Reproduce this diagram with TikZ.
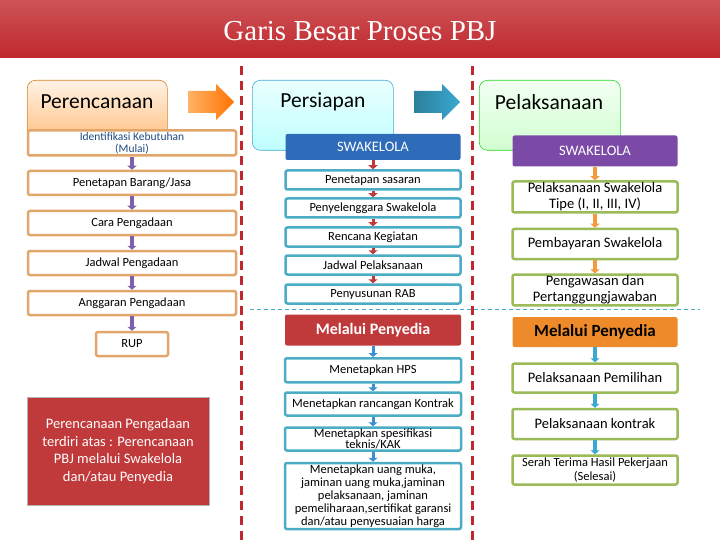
\documentclass[tikz,border=0pt]{standalone}
\usepackage{fontspec}
\setmainfont{Carlito}
\newfontfamily\titlefont{Liberation Serif}
\usetikzlibrary{arrows.meta}
\definecolor{tred}{HTML}{C0282D}
\definecolor{oborder}{HTML}{E3A66A}
\definecolor{tborder}{HTML}{4BACC6}
\definecolor{gborder}{HTML}{9BBB59}
\definecolor{dblue}{HTML}{2E6BB8}
\definecolor{dpurple}{HTML}{7B4AA6}
\definecolor{mred}{HTML}{C0393B}
\definecolor{morange}{HTML}{EE8A2A}
\definecolor{arrpurple}{HTML}{7E5FAA}
\definecolor{arrred}{HTML}{C0393B}
\definecolor{arrblue}{HTML}{3C8FD0}
\definecolor{arrorange}{HTML}{F19A3E}
\definecolor{arrteal}{HTML}{3AA9D0}
\tikzset{
 hdr/.style={rounded corners=8pt,draw=#1!70!gray,line width=0.6pt,anchor=north west,inner sep=0pt},
 obox/.style={draw=oborder,line width=2.5pt,fill=white,rounded corners=2pt,align=center,font=\fontsize{12.5}{13}\selectfont,inner sep=1pt},
 tbox/.style={draw=tborder,line width=2.5pt,fill=white,rounded corners=2pt,align=center,font=\fontsize{12.5}{13}\selectfont,inner sep=1pt},
 gbox/.style={draw=gborder,line width=2.5pt,fill=white,rounded corners=2pt,align=center,font=\fontsize{14.5}{16}\selectfont,inner sep=1pt},
 fbox/.style={fill=#1,rounded corners=2pt,text=white,font=\bfseries\fontsize{16}{17}\selectfont,inner sep=0pt},
 sarr/.style={-{Triangle[length=4pt,width=9pt]},line width=4pt,draw=#1,shorten >=0pt},
 hdrtext/.style={font=\fontsize{21.5}{22}\selectfont}
}
\begin{document}
\begin{tikzpicture}[x=1pt,y=-1pt]
\useasboundingbox (0,0) rectangle (720,540);
\fill[white] (0,0) rectangle (720,540);
% title
\shade[top color=tred!80!white,bottom color=tred] (0,0) rectangle (720,58);
\node[text=white,font=\titlefont\fontsize{29}{30}\selectfont] (title) at (360,31) {Garis Besar Proses PBJ};
% dashed separators
\draw[tred,line width=3pt,dash pattern=on 9pt off 6pt] (241,66) -- (241,540);
\draw[tred,line width=3pt,dash pattern=on 9pt off 6pt] (472,66) -- (472,540);
\draw[tborder,line width=0.8pt,dash pattern=on 4pt off 3pt] (250,309) -- (700,309);
% headers
\node[hdr=orange,minimum width=140,minimum height=70,top color=orange!10,bottom color=orange!55] (hp) at (27,80) {};
\node[hdrtext] (hpt) at (97,102) {Perencanaan};
\node[hdr=cyan,minimum width=141,minimum height=70,top color=cyan!8,bottom color=cyan!25] (hs) at (252,80) {};
\node[hdrtext] (hst) at (323,102) {Persiapan};
\node[hdr=green,minimum width=141,minimum height=70,top color=green!5,bottom color=green!18] (hl) at (479,80) {};
\node[hdrtext] (hlt) at (549,102) {Pelaksanaan};
% big arrows
\shade[left color=orange!60,right color=orange!90!red] (188,91) -- (216,91) -- (216,84) -- (234,102) -- (216,120) -- (216,113) -- (188,113) -- cycle;
\shade[left color=arrteal!75!black,right color=arrteal] (414,91) -- (442,91) -- (442,84) -- (460,102) -- (442,120) -- (442,113) -- (414,113) -- cycle;
% left column
\node[obox,minimum width=208,minimum height=25,text=dblue!70!black,font=\fontsize{11.5}{12}\selectfont] (l1) at (132,143) {Identifikasi Kebutuhan\\(Mulai)};
\node[obox,minimum width=208,minimum height=24] (l2) at (132,183) {Penetapan Barang/Jasa};
\node[obox,minimum width=208,minimum height=24] (l3) at (132,223) {Cara Pengadaan};
\node[obox,minimum width=208,minimum height=24] (l4) at (132,263) {Jadwal Pengadaan};
\node[obox,minimum width=208,minimum height=24] (l5) at (132,303) {Anggaran Pengadaan};
\node[obox,minimum width=72,minimum height=24] (l6) at (132,344) {RUP};
\foreach \a/\b in {l1/l2,l2/l3,l3/l4,l4/l5,l5/l6} \draw[sarr=arrpurple] (\a.south) -- (\b.north);
\node[fill=mred,draw=gray!60,line width=1pt,minimum width=182,minimum height=108,text=white,align=center,font=\fontsize{14.5}{17.5}\selectfont] (note) at (118,451) {Perencanaan Pengadaan\\terdiri atas : Perencanaan\\PBJ melalui Swakelola\\dan/atau Penyedia};
% middle column
\node[fbox=dblue,minimum width=175,minimum height=26,font=\fontsize{14.5}{15}\selectfont] (m0) at (373,147) {SWAKELOLA};
\node[tbox,minimum width=175,minimum height=19] (m1) at (373,180) {Penetapan sasaran};
\node[tbox,minimum width=175,minimum height=19] (m2) at (373,208) {Penyelenggara Swakelola};
\node[tbox,minimum width=175,minimum height=19] (m3) at (373,237) {Rencana Kegiatan};
\node[tbox,minimum width=175,minimum height=19] (m4) at (373,265) {Jadwal Pelaksanaan};
\node[tbox,minimum width=175,minimum height=19] (m5) at (373,294) {Penyusunan RAB};
\foreach \a/\b in {m0/m1,m1/m2,m2/m3,m3/m4,m4/m5} \draw[sarr=arrred,line width=3pt] (\a.south) -- (\b.north);
\node[fbox=mred,minimum width=176,minimum height=31] (m6) at (373,330) {Melalui Penyedia};
\node[tbox,minimum width=176,minimum height=24,anchor=north] (m7) at (373,357) {Menetapkan HPS};
\node[tbox,minimum width=176,minimum height=23] (m8) at (373,404) {Menetapkan rancangan Kontrak};
\node[tbox,minimum width=176,minimum height=23,font=\fontsize{12.5}{11.5}\selectfont] (m9) at (373,439) {Menetapkan spesifikasi\\teknis/KAK};
\node[tbox,minimum width=176,minimum height=66,font=\fontsize{12.5}{13}\selectfont] (m10) at (373,496) {Menetapkan uang muka,\\jaminan uang muka,jaminan\\pelaksanaan, jaminan\\pemeliharaan,sertifikat garansi\\dan/atau penyesuaian harga};
\foreach \a/\b in {m6/m7,m7/m8,m8/m9,m9/m10} \draw[sarr=arrblue,line width=3pt] (\a.south) -- (\b.north);
% right column
\node[fbox=dpurple,minimum width=165,minimum height=31,font=\fontsize{14.5}{15}\selectfont] (r0) at (595,151) {SWAKELOLA};
\node[gbox,minimum width=165,minimum height=31] (r1) at (595,197) {Pelaksanaan Swakelola\\Tipe (I, II, III, IV)};
\node[gbox,minimum width=165,minimum height=30] (r2) at (595,244) {Pembayaran Swakelola};
\node[gbox,minimum width=165,minimum height=30] (r3) at (595,290) {Pengawasan dan\\Pertanggungjawaban};
\foreach \a/\b in {r0/r1,r1/r2,r2/r3} \draw[sarr=arrorange] (\a.south) -- (\b.north);
\node[fbox=morange,minimum width=165,minimum height=30,text=black,font=\bfseries\fontsize{17}{18}\selectfont] (r4) at (595,332) {Melalui Penyedia};
\node[gbox,minimum width=165,minimum height=29] (r5) at (595,378) {Pelaksanaan Pemilihan};
\node[gbox,minimum width=165,minimum height=30] (r6) at (595,424) {Pelaksanaan kontrak};
\node[gbox,minimum width=165,minimum height=29,font=\fontsize{12.5}{14}\selectfont] (r7) at (595,470) {Serah Terima Hasil Pekerjaan\\(Selesai)};
\foreach \a/\b in {r4/r5,r5/r6,r6/r7} \draw[sarr=arrteal] (\a.south) -- (\b.north);
\end{tikzpicture}
\end{document}
